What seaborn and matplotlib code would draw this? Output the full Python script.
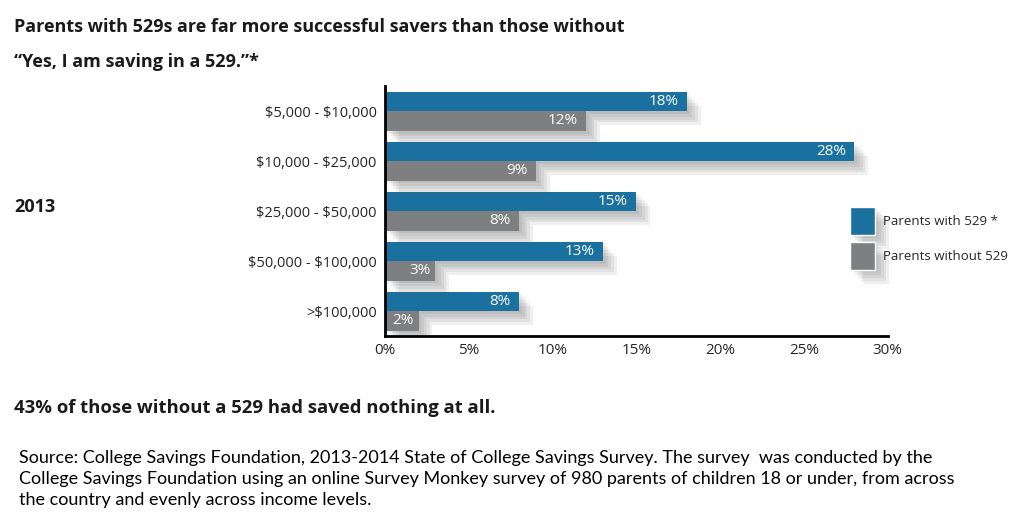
import pandas as pd
import matplotlib
matplotlib.use("Agg")
import matplotlib.pyplot as plt
import matplotlib.patheffects as pe
from matplotlib.patches import Patch
import seaborn as sns

# data
income_bands = ["\\$5,000 - \\$10,000", "\\$10,000 - \\$25,000", "\\$25,000 - \\$50,000",
                "\\$50,000 - \\$100,000", ">\\$100,000"]
with_529 = [18, 28, 15, 13, 8]
without_529 = [12, 9, 8, 3, 2]
series_names = ["Parents with 529 *", "Parents without 529"]
x_ticks = [0, 5, 10, 15, 20, 25, 30]

BLUE = "#1a71a0"
GRAY = "#7e7f81"

df = pd.DataFrame({
    "band": income_bands * 2,
    "pct": with_529 + without_529,
    "group": [series_names[0]] * len(income_bands) + [series_names[1]] * len(income_bands),
})

sns.set_style("white")
plt.rcParams["font.family"] = ["Open Sans", "DejaVu Sans"]

fig = plt.figure(figsize=(10.24, 5.26), dpi=100)
ax = fig.add_axes([0.376, 0.361, 0.491, 0.475])

sns.barplot(data=df, y="band", x="pct", hue="group", orient="h",
            palette=[BLUE, GRAY], width=0.78, saturation=1, legend=False,
            linewidth=0, ax=ax)

# soft drop shadow, a few faint offset layers
shadow = [pe.SimplePatchShadow(offset=(o, -o), shadow_rgbFace="#555555", alpha=0.09)
          for o in (2, 4, 6, 8, 10)] + [pe.Normal()]
for container in ax.containers:
    for bar in container:
        bar.set_path_effects(shadow)
        w = bar.get_width()
        cy = bar.get_y() + bar.get_height() / 2
        pad = 0.5 if w > 3 else 0.3
        ax.text(w - pad, cy, f"{w:.0f}%", ha="right", va="center",
                color="white", fontsize=11)

ax.set_xlim(0, 30)
ax.set_ylim(4.5, -0.5)
ax.set_xticks(x_ticks)
ax.set_xticklabels([f"{t}%" for t in x_ticks], fontsize=11)
ax.tick_params(axis="y", labelsize=10.5, direction="in", length=9, width=1.5, color="black", pad=6)
ax.tick_params(axis="x", direction="in", length=6, width=1.5, color="black", pad=5)
ax.set_xlabel("")
ax.set_ylabel("")
sns.despine(ax=ax)
for s in ["left", "bottom"]:
    ax.spines[s].set_color("black")
    ax.spines[s].set_linewidth(2)

handles = [Patch(facecolor=BLUE, path_effects=shadow), Patch(facecolor=GRAY, path_effects=shadow)]
fig.legend(handles, series_names, loc="center left", bbox_to_anchor=(0.818, 0.547),
           frameon=False, fontsize=9.5, handlelength=1.95, handleheight=2.9,
           handletextpad=0.6, labelspacing=0.5)

fig.text(0.014, 0.948, "Parents with 529s are far more successful savers than those without",
         fontsize=13, fontweight="bold", color="#1a1a1a", va="center")
fig.text(0.014, 0.882, "\u201cYes, I am saving in a 529.\u201d*",
         fontsize=13, fontweight="bold", color="#1a1a1a", va="center")
fig.text(0.014, 0.607, "2013", fontsize=13, fontweight="bold", color="#1a1a1a", va="center")
fig.text(0.014, 0.224, "43% of those without a 529 had saved nothing at all.",
         fontsize=13.3, fontweight="bold", color="#1a1a1a", va="center")
fig.text(0.019, 0.089,
         "Source: College Savings Foundation, 2013-2014 State of College Savings Survey. The survey  was conducted by the\n"
         "College Savings Foundation using an online Survey Monkey survey of 980 parents of children 18 or under, from across\n"
         "the country and evenly across income levels.",
         fontsize=13, family=["Lato", "DejaVu Sans"], color="black", va="center", linespacing=1.38)

fig.savefig("out.png", dpi=100, facecolor="white")
